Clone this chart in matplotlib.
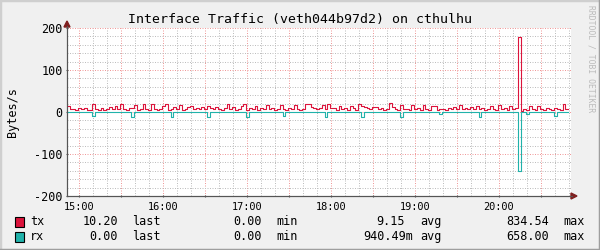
import datetime as dt
import matplotlib
matplotlib.use('Agg')
import matplotlib.pyplot as plt
import matplotlib.dates as mdates
from matplotlib.patches import Rectangle, Polygon
from matplotlib.lines import Line2D

plt.rcParams['axes.unicode_minus'] = False

W, H = 600, 250

# one sample every 2 minutes
start = dt.datetime(2024, 1, 1, 14, 51, 30)
step_min = 2

tx = [14, 7, 6, 5, 10, 6, 9, 5, 5, 18,
      8, 5, 10, 5, 6, 11, 6, 14, 8, 20,
      6, 5, 10, 10, 16, 5, 6, 20, 6, 5,
      18, 6, 5, 6, 15, 18, 5, 7, 12, 6,
      17, 5, 6, 11, 14, 6, 10, 6, 13, 6,
      15, 10, 6, 11, 6, 5, 9, 20, 6, 11,
      5, 6, 15, 18, 5, 10, 6, 14, 5, 10,
      6, 16, 8, 10, 5, 7, 17, 6, 5, 10,
      6, 16, 6, 5, 6, 20, 20, 12, 9, 6,
      9, 16, 6, 18, 10, 9, 5, 14, 6, 10,
      5, 14, 9, 5, 20, 14, 12, 9, 6, 13,
      12, 6, 10, 5, 6, 22, 12, 6, 5, 16,
      8, 6, 5, 16, 6, 10, 5, 16, 6, 5,
      14, 14, 5, 6, 6, 5, 10, 6, 11, 6,
      16, 7, 10, 6, 11, 6, 15, 6, 10, 5,
      6, 15, 6, 5, 16, 6, 10, 5, 15, 6,
      9, 178, 2, 6, 5, 15, 6, 5, 15, 6,
      5, 10, 6, 5, 9, 6, 5, 18, 8]

# rx is drawn mirrored below zero
rx = [0, 0, 0, 0, 0, 0, 0, 0, 0, 9,
      0, 0, 0, 0, 0, 0, 0, 0, 0, 0,
      0, 0, 0, 12, 0, 0, 0, 0, 0, 0,
      0, 0, 0, 0, 0, 0, 0, 12, 0, 0,
      0, 0, 0, 0, 0, 0, 0, 0, 0, 0,
      12, 0, 0, 0, 0, 0, 0, 0, 0, 0,
      0, 0, 0, 0, 12, 0, 0, 0, 0, 0,
      0, 0, 0, 0, 0, 0, 0, 10, 0, 0,
      0, 0, 0, 0, 0, 0, 0, 0, 0, 0,
      0, 0, 12, 0, 0, 0, 0, 0, 0, 0,
      0, 0, 0, 0, 0, 12, 0, 0, 0, 0,
      0, 0, 0, 0, 0, 0, 0, 0, 0, 12,
      0, 0, 0, 0, 0, 0, 0, 0, 0, 0,
      0, 0, 0, 4, 0, 0, 0, 0, 0, 0,
      0, 0, 0, 0, 0, 0, 0, 11, 0, 0,
      0, 0, 0, 0, 0, 0, 0, 0, 0, 0,
      0, 140, 0, 0, 4, 0, 0, 0, 0, 0,
      0, 0, 0, 0, 10, 0, 0, 0, 0]

legend = [
    ('tx', '10.20', '0.00', '9.15', '834.54'),
    ('rx', '0.00', '0.00', '940.49m', '658.00'),
]

TX_COL = '#DC143C'
RX_COL = '#20B2AA'
BACK = '#F0F0F0'
GRID = '#BEBEBE'
MGRID = '#F09A9A'
ARROW = '#7F1F1F'
MONO = 'DejaVu Sans Mono'


def fpos(x, y):
    # pixel position (from top-left) -> figure fraction
    return x / W, 1 - y / H


fig = plt.figure(figsize=(W / 100, H / 100), dpi=100, facecolor=BACK)
ax = fig.add_axes([67 / W, 1 - 196 / H, 504 / W, 168 / H])
ax.set_facecolor('white')

edges = [start + dt.timedelta(minutes=step_min * k) for k in range(len(tx) + 1)]
ax.step(edges, tx + [tx[-1]], where='post', color=TX_COL, lw=0.8, zorder=3)
ax.step(edges, [-v for v in rx] + [-rx[-1]], where='post', color=RX_COL, lw=0.8, zorder=4)

ax.set_ylim(-200, 200)
ax.set_xlim(dt.datetime(2024, 1, 1, 14, 51, 26), dt.datetime(2024, 1, 1, 20, 51, 26))

ax.set_yticks([-200, -100, 0, 100, 200])
ax.set_yticks(range(-200, 201, 20), minor=True)
ax.xaxis.set_major_locator(mdates.MinuteLocator(byminute=[0, 30]))
ax.xaxis.set_minor_locator(mdates.MinuteLocator(byminute=range(0, 60, 10)))
ax.xaxis.set_major_formatter(
    plt.FuncFormatter(lambda v, p: '' if mdates.num2date(v).minute else mdates.num2date(v).strftime('%H:%M')))

dots = (0, (1, 1.5))
ax.grid(True, which='minor', color=GRID, lw=0.72, ls=dots, zorder=0)
ax.grid(True, which='major', color=MGRID, lw=0.72, ls=dots, zorder=1)
ax.set_axisbelow(True)

for s in ('top', 'right'):
    ax.spines[s].set_visible(False)
for s in ('left', 'bottom'):
    ax.spines[s].set_color('#555555')
    ax.spines[s].set_linewidth(0.8)

ax.tick_params(axis='x', which='major', length=2, direction='inout', color='#555555',
               labelsize=7.4, pad=3)
ax.tick_params(axis='y', which='major', length=2, direction='inout', color='#555555',
               labelsize=8.5, pad=2)
ax.tick_params(which='minor', length=0)
for lab in ax.get_xticklabels() + ax.get_yticklabels():
    lab.set_family(MONO)

# axis arrows
fig.patches.append(Polygon([fpos(67, 21), fpos(64, 27), fpos(70, 27)], closed=True,
                           transform=fig.transFigure, color=ARROW))
fig.patches.append(Polygon([fpos(577, 196), fpos(571, 193), fpos(571, 199)], closed=True,
                           transform=fig.transFigure, color=ARROW))
fig.lines.append(Line2D([67 / W, 67 / W], [1 - 196 / H, 1 - 26 / H], transform=fig.transFigure,
                        color='#555555', lw=0.8))
fig.lines.append(Line2D([67 / W, 572 / W], [1 - 196 / H, 1 - 196 / H], transform=fig.transFigure,
                        color='#555555', lw=0.8))

fig.text(*fpos(300, 19), 'Interface Traffic (veth044b97d2) on cthulhu', family=MONO,
         fontsize=9.5, ha='center', va='center')
fig.text(*fpos(12, 112), 'Bytes/s', family=MONO, fontsize=8.5, rotation=90,
         ha='center', va='center')
fig.text(*fpos(591, 59), 'RRDTOOL / TOBI OETIKER', family=MONO, fontsize=5.8,
         rotation=270, ha='center', va='center', color='#BBBBBB')

# legend
for row, (name, last, mn, avg, mx) in enumerate(legend):
    yc = 221.5 + 15 * row
    col = TX_COL if name == 'tx' else RX_COL
    fig.patches.append(Rectangle(fpos(15, yc + 5), 9 / W, 10 / H, transform=fig.transFigure,
                                 facecolor=col, edgecolor='black', lw=0.8))
    kw = dict(family=MONO, fontsize=8.5, va='center')
    fig.text(*fpos(30, yc), name, ha='left', **kw)
    fig.text(*fpos(118, yc), last, ha='right', **kw)
    fig.text(*fpos(132, yc), 'last', ha='left', **kw)
    fig.text(*fpos(262, yc), mn, ha='right', **kw)
    fig.text(*fpos(276, yc), 'min', ha='left', **kw)
    fig.text(*fpos(413 if avg.endswith('m') else 405, yc), avg, ha='right', **kw)
    fig.text(*fpos(420, yc), 'avg', ha='left', **kw)
    fig.text(*fpos(549, yc), mx, ha='right', **kw)
    fig.text(*fpos(563, yc), 'max', ha='left', **kw)

# shaded frame around the image
fig.lines.append(Line2D([0, 0, 1], [0, 1, 1], transform=fig.transFigure, color='#CFCFCF', lw=2.5))
fig.lines.append(Line2D([0, 1, 1], [0, 0, 1], transform=fig.transFigure, color='#9E9E9E', lw=2.5))

fig.savefig('out.png', dpi=100, facecolor=BACK)
